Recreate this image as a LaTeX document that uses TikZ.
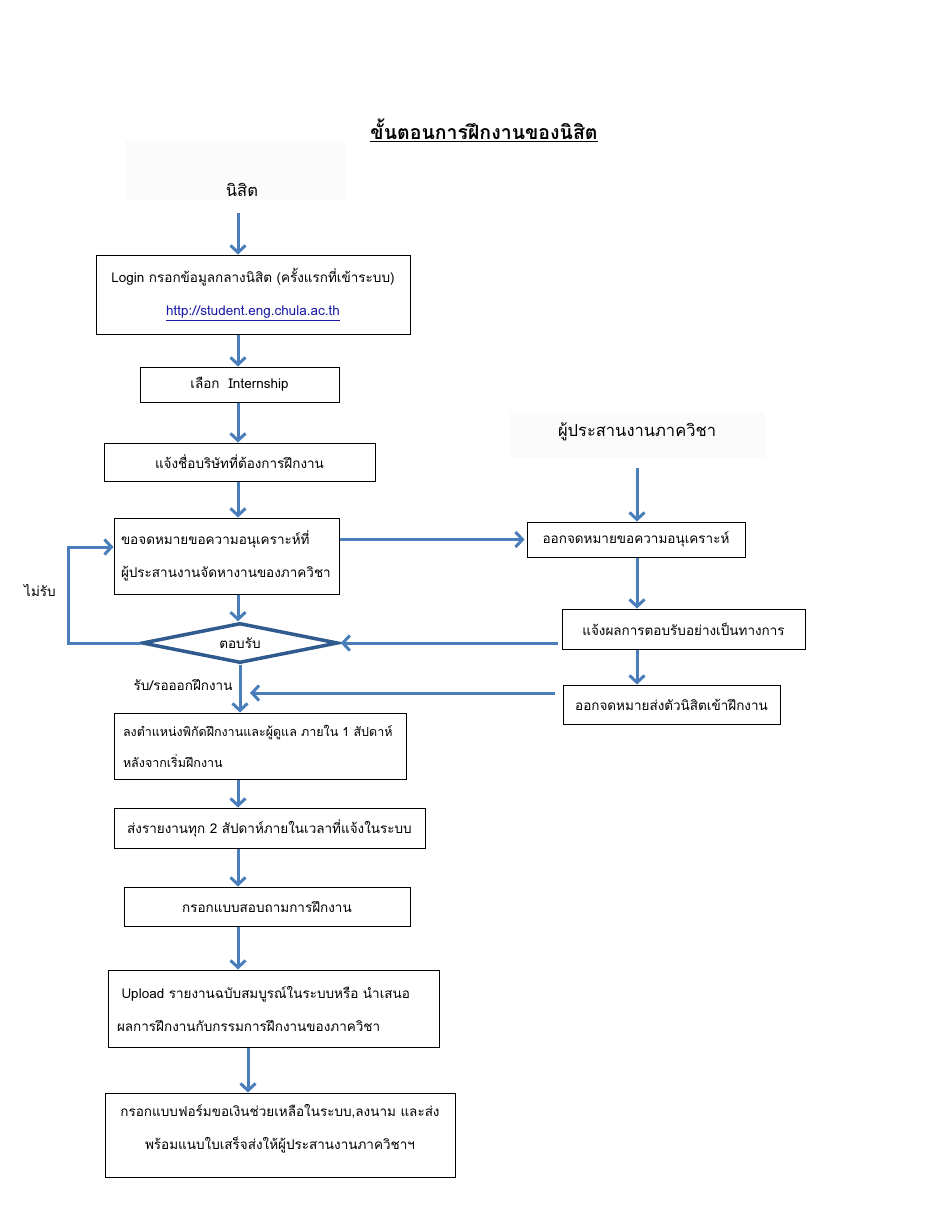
\documentclass[tikz,border=0pt]{standalone}
\usepackage{fontspec}
\newfontfamily\thai[Script=Thai]{Loma}
\usetikzlibrary{arrows.meta,shapes.geometric,calc}
\definecolor{arrblue}{HTML}{4A7EBB}
\definecolor{diablue}{HTML}{2F5B8F}
\definecolor{linkblue}{HTML}{1A1AA6}
\definecolor{faint}{HTML}{FBFBFB}
\begin{document}
\begin{tikzpicture}[x=1pt,y=-1pt,
  font=\thai\fontsize{13.5}{33}\selectfont,
  box/.style={draw=black, line width=1pt, inner sep=0pt, align=center},
  lbox/.style={box, align=left},
  plain/.style={inner sep=0pt},
  arr/.style={draw=arrblue, line width=3pt, -{Straight Barb[length=7pt,width=15pt]}},
  dia/.style={draw=diablue, line width=3.5pt, diamond, shape aspect=4.7,
    minimum width=196pt, minimum height=40pt, inner sep=0pt}]
\useasboundingbox[fill=white] (0,0) rectangle (935,1210);

% title
\node[plain] (title) at (484,130) {\bfseries\fontsize{19.5}{22}\selectfont\underline{ขั้นตอนการฝึกงานของนิสิต}};

% actor labels with faint background
\fill[faint] (125,140) rectangle (345,200);
\node[plain] (nisit) at (242,190) {\fontsize{16.5}{20}\selectfont นิสิต};
\fill[faint] (510,412) rectangle (765,458);
\node[plain] (coord) at (637,432) {\fontsize{16.5}{20}\selectfont ผู้ประสานงานภาควิชา};

% column helpers
\coordinate (c) at (238,0);
\coordinate (c3) at (248,0);
\coordinate (c4) at (637,0);
\coordinate (nisitbot) at (238,213);
\coordinate (coordbot) at (637,468);
\coordinate (join) at (250,693);
\coordinate (loopc) at (68,547);

% boxes
\node[box, minimum width=314pt, minimum height=79pt] (b1) at (253,294.5)
  {Login กรอกข้อมูลกลางนิสิต (ครั้งแรกที่เข้าระบบ)\\
   \textcolor{linkblue}{\underline{http://student.eng.chula.ac.th}}};
\node[box, minimum width=199pt, minimum height=35pt] (b2) at (239.5,384.5) {เลือก~~Internship};
\node[box, minimum width=271pt, minimum height=38pt] (b3) at (239.5,462) {แจ้งชื่อบริษัทที่ต้องการฝึกงาน};
\node[lbox, minimum width=225pt, minimum height=76pt, text width=211pt] (b4) at (226.5,556)
  {ขอจดหมายขอความอนุเคราะห์ที่\\ผู้ประสานงานจัดหางานของภาควิชา};
\node[box, minimum width=218pt, minimum height=35pt] (b5) at (636,539.5) {ออกจดหมายขอความอนุเคราะห์};
\node[box, minimum width=243pt, minimum height=40pt] (b6) at (683.5,629) {แจ้งผลการตอบรับอย่างเป็นทางการ};
\node[box, minimum width=217pt, minimum height=39pt] (b7) at (671.5,704.5) {ออกจดหมายส่งตัวนิสิตเข้าฝึกงาน};
\node[dia] (d) at (240,643) {ตอบรับ};
\node[lbox, minimum width=292pt, minimum height=66pt, text width=274pt,
  font=\thai\fontsize{12.5}{31}\selectfont] (b8) at (260,746)
  {\mbox{ลงตำแหน่งพิกัดฝึกงานและผู้ดูแล ภายใน 1 สัปดาห์}\\หลังจากเริ่มฝึกงาน};
\node[box, minimum width=311pt, minimum height=40pt] (b9) at (269.5,828) {ส่งรายงานทุก 2 สัปดาห์ภายในเวลาที่แจ้งในระบบ};
\node[box, minimum width=286pt, minimum height=39pt] (b10) at (267,906.5) {กรอกแบบสอบถามการฝึกงาน};
\node[lbox, minimum width=331pt, minimum height=77pt, text width=313pt] (b11) at (273.5,1008.5)
  {\ Upload รายงานฉบับสมบูรณ์ในระบบหรือ นำเสนอ\\ผลการฝึกงานกับกรรมการฝึกงานของภาควิชา};
\node[box, minimum width=350pt, minimum height=84pt, text depth=16pt] (b12) at (280,1135)
  {กรอกแบบฟอร์มขอเงินช่วยเหลือในระบบ,ลงนาม และส่ง\\พร้อมแนบใบเสร็จส่งให้ผู้ประสานงานภาควิชาฯ};

% labels
\node[plain] (no) at (40,590) {ไม่รับ};
\node[plain] (yes) at (183,685) {รับ/รอออกฝึกงาน};

% connectors
\draw[arr] (nisitbot) -- (c |- b1.north);
\draw[arr] (c |- b1.south) -- (c |- b2.north);
\draw[arr] (c |- b2.south) -- (c |- b3.north);
\draw[arr] (c |- b3.south) -- (c |- b4.north);
\draw[arr] (c |- b4.south) -- (c |- d.north);
\draw[arr] (d.south) -- (d.south |- b8.north);
\draw[arr] (c |- b8.south) -- (c |- b9.north);
\draw[arr] (c |- b9.south) -- (c |- b10.north);
\draw[arr] (c |- b10.south) -- (c |- b11.north);
\draw[arr] (c3 |- b11.south) -- (c3 |- b12.north);
\draw[arr, shorten >=2pt] (b4.east |- b5.west) -- (b5.west);
\draw[arr] (coordbot) -- (c4 |- b5.north);
\draw[arr] (c4 |- b5.south) -- (c4 |- b6.north);
\draw[arr] (c4 |- b6.south) -- (c4 |- b7.north);
\draw[arr, shorten <=4pt, shorten >=1pt] (b6.west |- d.east) -- (d.east);
\draw[arr, shorten <=8pt] (b7.west |- join) -- (join);
\draw[arr] (d.west) -| (loopc) -- (b4.west |- loopc);
\end{tikzpicture}
\end{document}
